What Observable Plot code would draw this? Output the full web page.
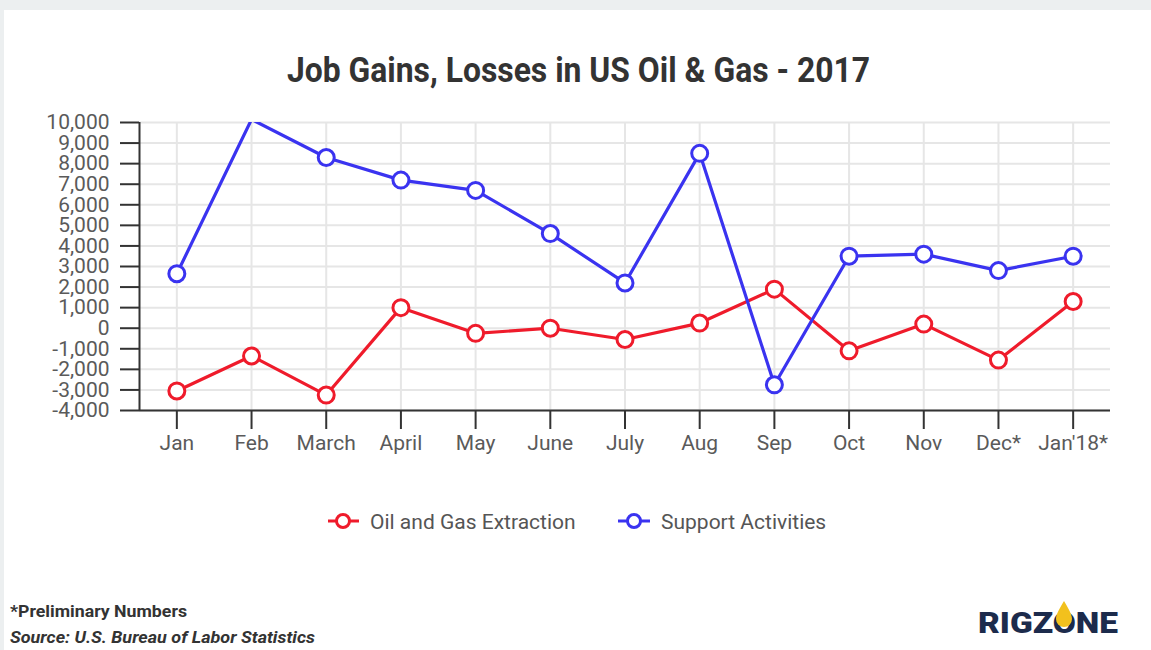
<!DOCTYPE html>
<html><head><meta charset="utf-8">
<script src="https://cdn.jsdelivr.net/npm/d3@7"></script>
<script src="https://cdn.jsdelivr.net/npm/@observablehq/plot@0.6"></script>
<style>
body{margin:0;background:#eceff0;width:1151px;height:650px;overflow:hidden;position:relative;font-family:Roboto,sans-serif}
#card{position:absolute;left:4px;top:10px;width:1147px;height:640px;background:#fff}
#deco{position:absolute;left:0;top:0}
#chart{position:absolute;left:0;top:100px}
</style></head>
<body>
<div id="card"></div>
<svg id="deco" width="1151" height="650" font-family="Roboto, sans-serif">
  <text x="287" y="82" textLength="583" lengthAdjust="spacingAndGlyphs" font-weight="700" font-size="35" fill="#333">Job Gains, Losses in US Oil &amp; Gas - 2017</text>
  <g id="legend"></g>
  <text x="10" y="617" textLength="177" lengthAdjust="spacingAndGlyphs" font-weight="700" font-size="17" fill="#333">*Preliminary Numbers</text>
  <text x="10" y="643" textLength="305" lengthAdjust="spacingAndGlyphs" font-weight="700" font-style="italic" font-size="17" fill="#333">Source: U.S. Bureau of Labor Statistics</text>
  <text x="978" y="633" textLength="140" lengthAdjust="spacingAndGlyphs" font-weight="900" font-size="29" fill="#1c2b4c">RIGZONE</text>
  <path d="M1064,601 C1060,608 1056,614 1056,619 A8,8 0 0,0 1072,619 C1072,614 1068,608 1064,601 Z" fill="#f2c11d"/>
</svg>
<div id="chart"></div>
<script>
const months = ["Jan","Feb","March","April","May","June","July","Aug","Sep","Oct","Nov","Dec*","Jan'18*"];
const extraction = [-3050,-1350,-3250,1000,-250,0,-550,250,1900,-1100,200,-1550,1300];
const support = [2650,10150,8300,7200,6700,4600,2200,8500,-2750,3500,3600,2800,3500];
const seriesNames = ["Oil and Gas Extraction","Support Activities"];
const seriesColors = ["#ef1b2b","#3a33f0"];
const yTicks = d3.range(-4000, 10001, 1000);

const idx = d3.range(months.length);
const data = [];
idx.forEach(i => {
  data.push({i, series: seriesNames[0], value: extraction[i]});
  data.push({i, series: seriesNames[1], value: support[i]});
});

const chart = Plot.plot({
  width: 1151, height: 360,
  marginTop: 22, marginBottom: 50, marginLeft: 139, marginRight: 41,
  x: {domain: [-0.5, months.length - 0.5]},
  y: {domain: [-4000, 10000]},
  color: {domain: seriesNames, range: seriesColors},
  style: {fontFamily: "Roboto, sans-serif", fontSize: "21px", background: "transparent"},
  marks: [
    Plot.gridY(yTicks, {stroke: "#e6e6e6", strokeOpacity: 1, strokeWidth: 2}),
    Plot.gridX(idx, {stroke: "#e6e6e6", strokeOpacity: 1, strokeWidth: 2}),
    Plot.axisY(yTicks, {tickSize: 19, tickPadding: 11, stroke: "#333", strokeWidth: 2, fill: "#5a5a5a", fontSize: 21,
      tickFormat: d => d.toLocaleString("en-US"), label: null}),
    Plot.axisX(idx, {tickSize: 19, tickPadding: 6, stroke: "#333", strokeWidth: 2, fill: "#5a5a5a", fontSize: 21,
      tickFormat: i => months[i], label: null}),
    Plot.ruleY([-4000], {stroke: "#333", strokeWidth: 2}),
    Plot.ruleX([-0.5], {stroke: "#333", strokeWidth: 2}),
    Plot.line(data, {x: "i", y: "value", z: "series", stroke: "series", strokeWidth: 3.2, clip: true}),
    // markers that fall outside the plot area are hidden, as in the original
    Plot.dot(data, {filter: d => d.value <= 10000 && d.value >= -4000,
      x: "i", y: "value", stroke: "series", fill: "white", r: 8, strokeWidth: 3, fillOpacity: 1})
  ]
});
document.getElementById("chart").appendChild(chart);

// legend
const lg = d3.select("#legend");
const items = [{x0: 328, x1: 359, cx: 343, tx: 370}, {x0: 618, x1: 650, cx: 634, tx: 661}];
items.forEach((it, k) => {
  lg.append("line").attr("x1", it.x0).attr("x2", it.x1).attr("y1", 521).attr("y2", 521)
    .attr("stroke", seriesColors[k]).attr("stroke-width", 3);
  lg.append("circle").attr("cx", it.cx).attr("cy", 521).attr("r", 6.5)
    .attr("fill", "white").attr("stroke", seriesColors[k]).attr("stroke-width", 3);
  lg.append("text").attr("x", it.tx).attr("y", 528.5).attr("font-size", 21).attr("fill", "#555")
    .text(seriesNames[k]);
});
</script>
</body></html>
